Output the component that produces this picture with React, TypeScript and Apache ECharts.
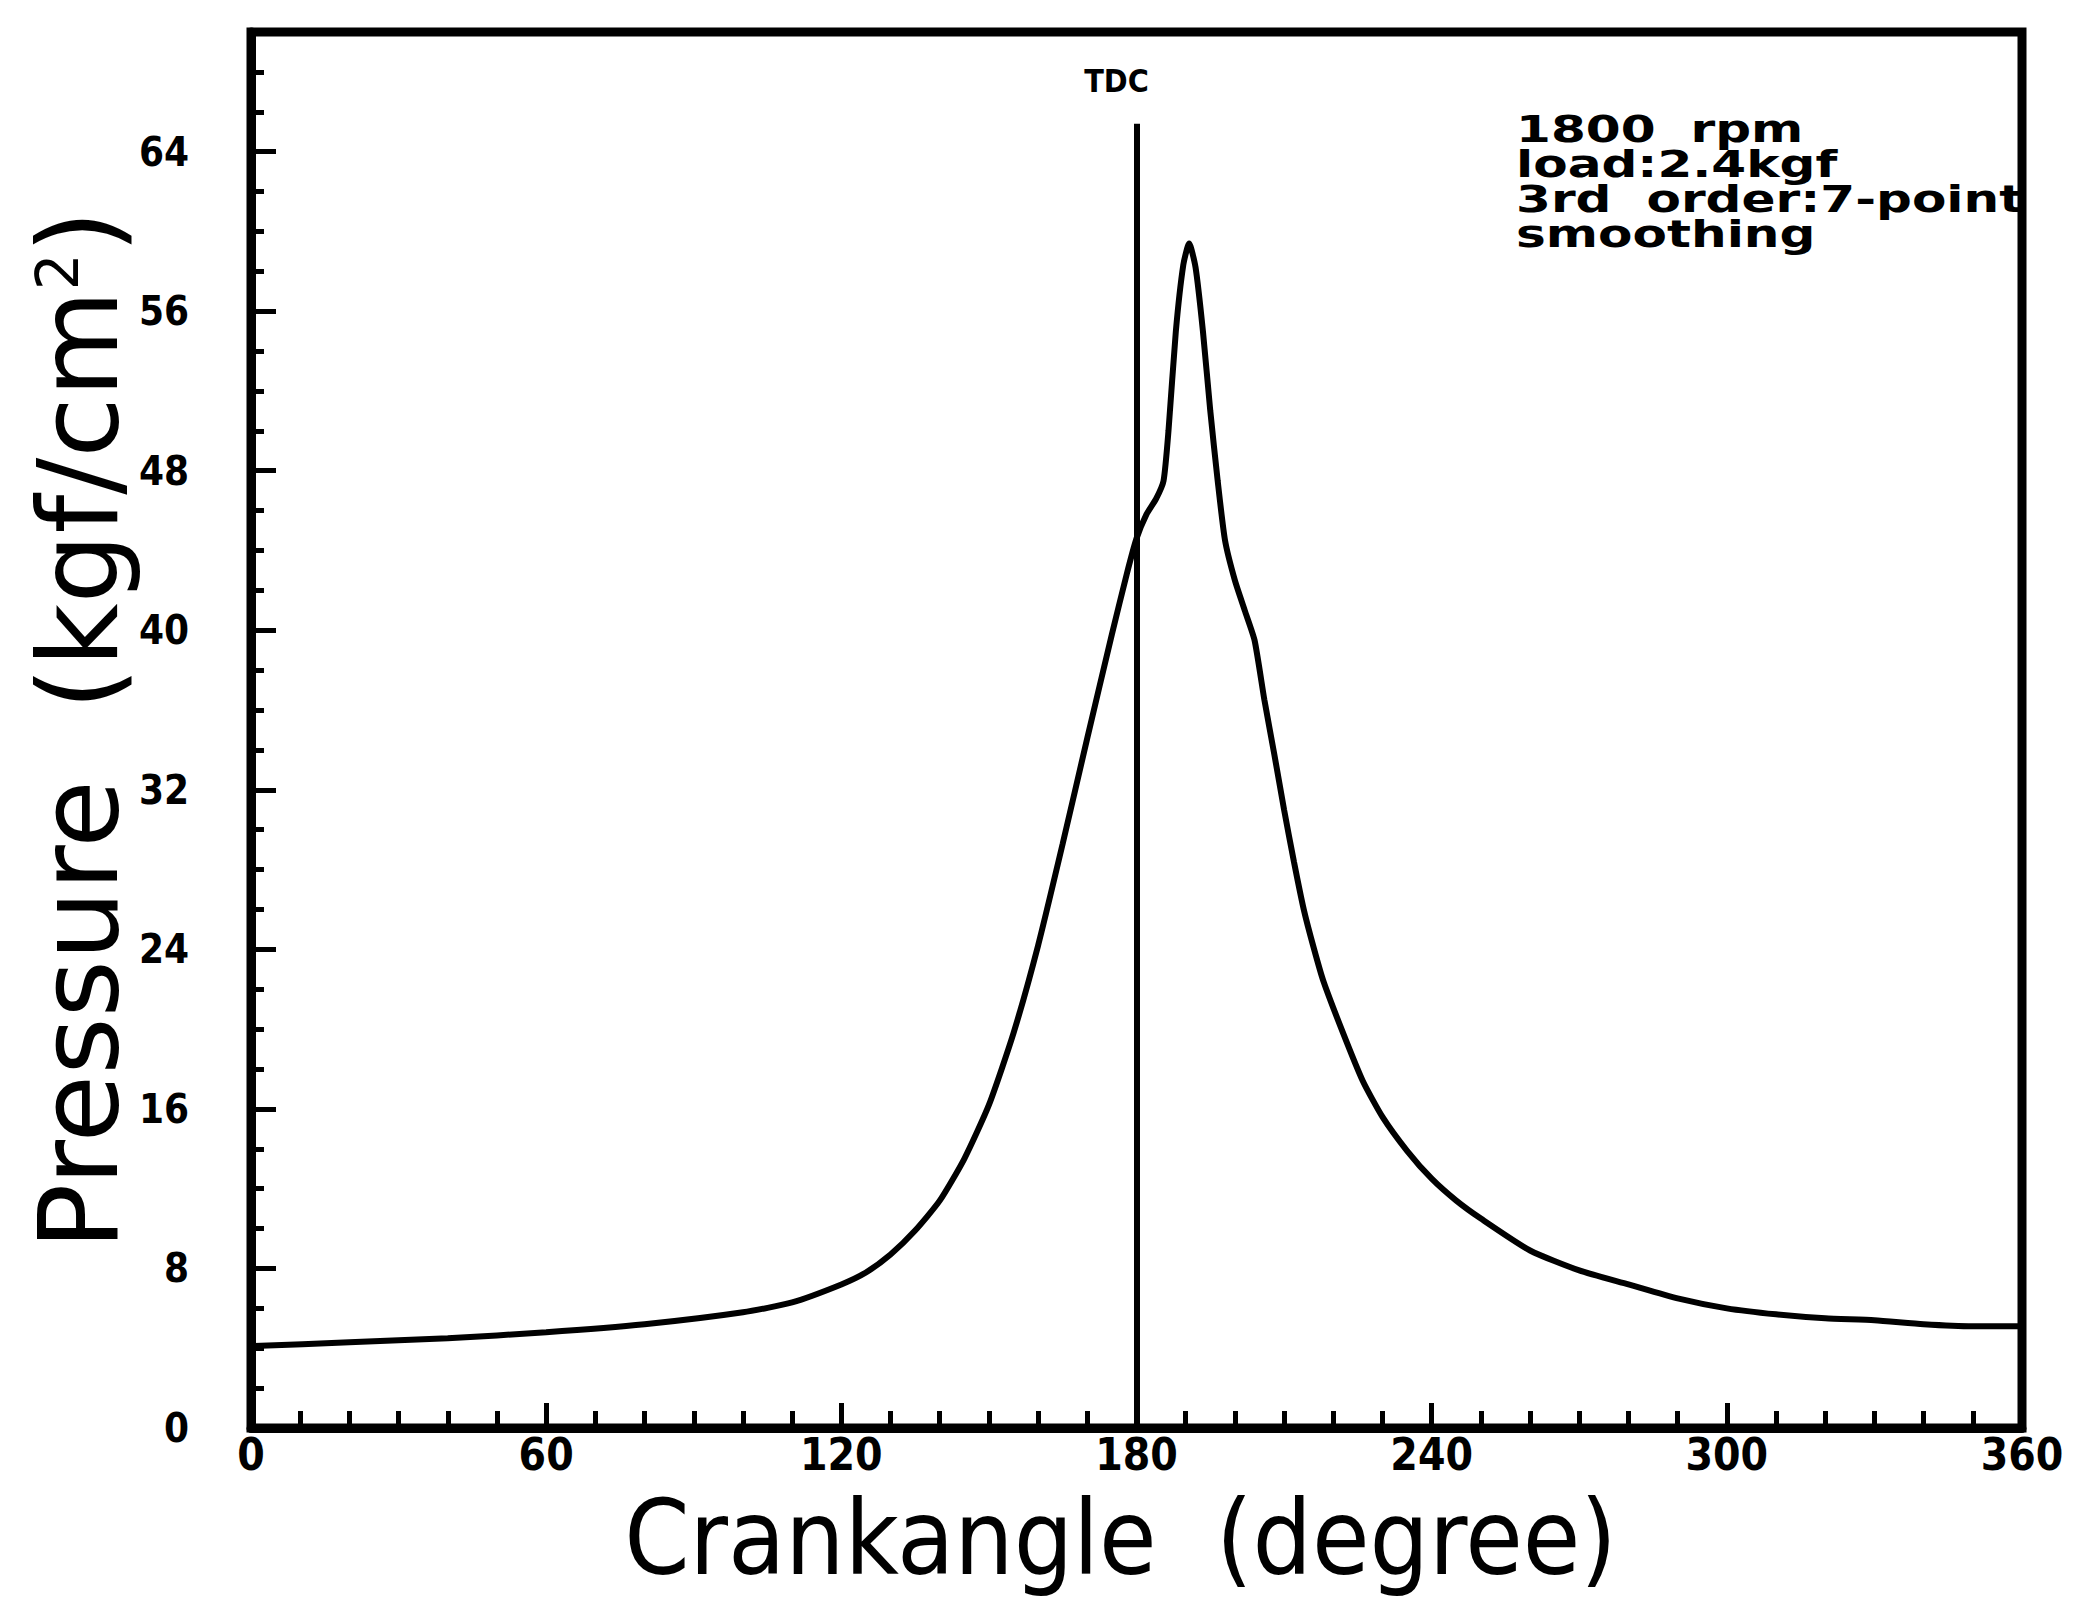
import React, { useEffect, useRef } from "react";
import * as echarts from "echarts";

// Crank angle (degree) and cylinder pressure (kgf/cm^2)
const crankAngle = [
  0, 20, 40, 60, 80, 100, 110, 120, 125, 130, 135, 140, 145, 150, 155, 160, 165, 170, 175, 178,
  180, 182, 184, 185.5, 186.5, 188, 189.5, 190.7, 192, 193.5, 195, 196.5, 198, 200, 202, 204,
  206, 208, 210, 212, 214, 216, 218, 222, 226, 230, 235, 240, 245, 250, 260, 270, 280, 290, 300,
  310, 320, 330, 340, 350, 360,
];
const pressure = [
  4.1, 4.3, 4.5, 4.8, 5.2, 5.8, 6.3, 7.2, 7.8, 8.7, 9.9, 11.4, 13.5, 16.2, 19.8, 24.2, 29.3, 34.6, 39.8, 42.8,
  44.6, 45.8, 46.6, 47.5, 50.0, 55.0, 58.3, 59.4, 58.2, 55.0, 51.0, 47.5, 44.5, 42.5, 41.0, 39.5,
  36.5, 33.8, 31.0, 28.4, 26.0, 24.1, 22.4, 19.8, 17.4, 15.6, 13.9, 12.5, 11.4, 10.5, 8.9, 7.9, 7.2, 6.5, 6.0,
  5.7, 5.5, 5.4, 5.2, 5.1, 5.1,
];

// Top dead centre marker
const tdcAngle = 180;
const tdcTop = 65.4;
const tdcLabel = "TDC";

// Test conditions
const noteLines = ["1800  rpm", "load:2.4kgf", "3rd  order:7-point", "smoothing"];

const xName = "Crankangle  (degree)";
const yName = "Pressure  (kgf/cm{sup|2})";

const COND = "DejaVu Sans Condensed, DejaVu Sans, sans-serif";
const PLAIN = "DejaVu Sans, sans-serif";

export default function App() {
  const ref = useRef<HTMLDivElement>(null);

  useEffect(() => {
    if (!ref.current) return;
    const chart = echarts.init(ref.current, undefined, { renderer: "svg" });
    const points = crankAngle.map((a, i) => [a, pressure[i]]);

    chart.setOption({
      animation: false,
      backgroundColor: "#fff",
      grid: {
        left: 251,
        right: 57,
        top: 32,
        bottom: 195,
        show: true,
        borderColor: "#000",
        borderWidth: 9,
      },
      xAxis: {
        type: "value",
        min: 0,
        max: 360,
        interval: 60,
        name: xName,
        nameLocation: "middle",
        nameGap: 68,
        nameTextStyle: {
          fontFamily: COND,
          fontSize: 104,
          lineHeight: 84,
          color: "#000",
          padding: [0, 32, 0, 0],
        },
        axisLine: { show: true, lineStyle: { color: "#000", width: 9 } },
        axisTick: { show: true, inside: true, length: 25, lineStyle: { color: "#000", width: 5 } },
        minorTick: { show: true, splitNumber: 6, length: 17, lineStyle: { color: "#000", width: 5 } },
        axisLabel: {
          show: true,
          margin: 4,
          fontFamily: COND,
          fontWeight: "bold",
          fontSize: 44,
          color: "#000",
        },
        splitLine: { show: false },
      },
      yAxis: [
        {
          type: "value",
          min: 0,
          max: 70,
          interval: 2,
          position: "left",
          name: yName,
          nameLocation: "middle",
          nameGap: 122,
          nameTextStyle: {
            fontFamily: PLAIN,
            fontSize: 110,
            lineHeight: 100,
            color: "#000",
            rich: {
              sup: {
                fontFamily: PLAIN,
                fontSize: 58,
                color: "#000",
                verticalAlign: "top",
                lineHeight: 58,
              },
            },
          },
          axisLine: { show: true, lineStyle: { color: "#000", width: 9 } },
          axisTick: { show: true, inside: true, length: 13, lineStyle: { color: "#000", width: 5 } },
          axisLabel: { show: false },
          splitLine: { show: false },
        },
        {
          type: "value",
          min: 0,
          max: 70,
          interval: 8,
          position: "left",
          offset: 0,
          axisLine: { show: false },
          axisTick: { show: true, inside: true, length: 25, lineStyle: { color: "#000", width: 5 } },
          axisLabel: {
            show: true,
            showMaxLabel: false,
            margin: 62,
            fontFamily: COND,
            fontWeight: "bold",
            fontSize: 40,
            color: "#000",
          },
          splitLine: { show: false },
        },
      ],
      series: [
        {
          type: "line",
          xAxisIndex: 0,
          yAxisIndex: 0,
          data: points,
          showSymbol: false,
          smooth: 0.2,
          lineStyle: { color: "#000", width: 6 },
          markLine: {
            silent: true,
            symbol: "none",
            lineStyle: { color: "#000", width: 6, type: "solid" },
            label: {
              show: true,
              position: "end",
              formatter: tdcLabel,
              fontFamily: COND,
              fontWeight: "bold",
              fontSize: 32,
              color: "#000",
              distance: 27,
              offset: [-20, 0],
            },
            data: [[{ coord: [tdcAngle, 0] }, { coord: [tdcAngle, tdcTop] }]],
          },
        },
      ],
      graphic: [
        {
          type: "text",
          x: 1516,
          y: 111,
          scaleX: 1.32,
          style: {
            text: noteLines.join("\n"),
            fontFamily: PLAIN,
            fontWeight: "bold",
            fontSize: 38,
            lineHeight: 35,
            fill: "#000",
          },
        },
      ],
    });

    return () => chart.dispose();
  }, []);

  return (
    <div
      ref={ref}
      style={{ position: "fixed", left: 0, top: 0, width: 2079, height: 1623, background: "#fff" }}
    />
  );
}
